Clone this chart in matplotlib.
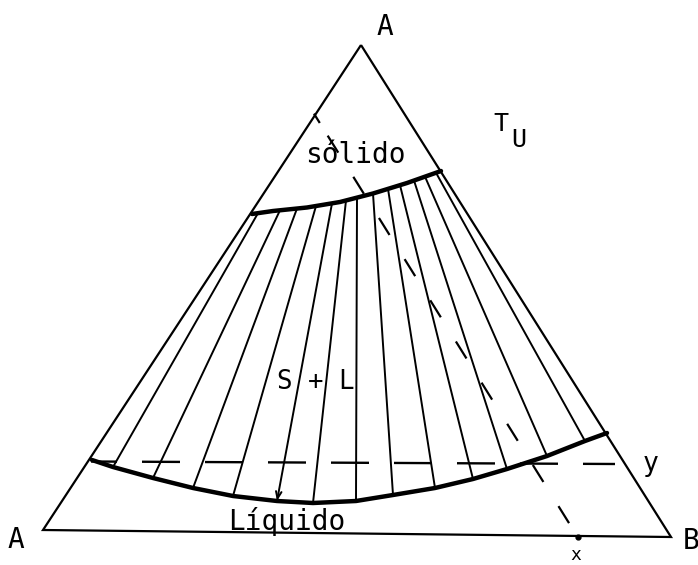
import numpy as np
import matplotlib
matplotlib.use("Agg")
import matplotlib.pyplot as plt

plt.rcParams['lines.scale_dashes'] = False
plt.rcParams['lines.solid_capstyle'] = 'butt'
plt.rcParams['font.family'] = ['DejaVu Sans Mono', 'DejaVu Sans']

# Corners of the composition triangle (drawing units, y grows downward)
apex_A = (361, 45)
corner_A = (43, 530)
corner_B = (671, 537)

# Solidus and liquidus boundaries of the S + L field at T_U
solidus_x = [252, 273, 307, 340, 373, 407, 441]
solidus_y = [214, 211, 207.5, 202, 193.5, 183, 171]
liquidus_x = [92, 113, 153, 193, 233, 277, 313, 356, 393, 435, 473, 507, 547, 585, 607]
liquidus_y = [460, 467, 478, 488, 496, 501, 503, 501, 495, 488, 479, 469, 456, 441, 433]

# Tie lines: solid end and liquid end (x along each boundary)
tie_solid_x = [258, 280, 297, 316, 332, 346, 357, 373, 388, 400, 414, 425, 436]
tie_liquid_x = [113, 153, 193, 233, 277, 313, 356, 393, 435, 473, 507, 547, 585]
arrow_tie = 4

# Alloy x on the A-B side, its path up to the A-A side, and the trace at y
alloy_x = (577.5, 536.7)
path_end = (314.5, 114.5)
trace_y_x = [91, 615]
trace_y_y = [461.5, 464]

PX = 0.72  # points per pixel at 100 dpi
INK = 'black'

fig = plt.figure(figsize=(6.98, 5.65), dpi=100)
ax = fig.add_axes([0, 0, 1, 1])
ax.set_xlim(0, 698)
ax.set_ylim(565, 0)
ax.axis('off')

# triangle
tri = np.array([apex_A, corner_A, corner_B, apex_A])
ax.plot(tri[:, 0], tri[:, 1], color=INK, lw=1.6, solid_joinstyle='miter')

# tie lines
sy = np.interp(tie_solid_x, solidus_x, solidus_y)
ly = np.interp(tie_liquid_x, liquidus_x, liquidus_y)
for i, (x0, y0, x1, y1) in enumerate(zip(tie_solid_x, sy, tie_liquid_x, ly)):
    if i == arrow_tie:
        ax.annotate('', xy=(x1, y1), xytext=(x0, y0),
                    arrowprops=dict(arrowstyle='->,head_length=0.5,head_width=0.2',
                                    lw=1.4, color=INK, shrinkA=0, shrinkB=0))
    else:
        ax.plot([x0, x1], [y0, y1], color=INK, lw=1.4)

# phase boundaries
ax.plot(solidus_x, solidus_y, color=INK, lw=3.2, solid_capstyle='round', solid_joinstyle='round')
ax.plot(liquidus_x, liquidus_y, color=INK, lw=3.2, solid_capstyle='round', solid_joinstyle='round')

# isothermal trace through y
ax.plot(trace_y_x, trace_y_y, color=INK, lw=1.7,
        linestyle=(12 * PX, (38 * PX, 25 * PX)))

# path of alloy x
ax.plot([alloy_x[0], path_end[0]], [alloy_x[1], path_end[1]], color=INK, lw=1.6,
        linestyle=(32.5 * PX, (20 * PX, 28.5 * PX)))
d = np.array(path_end) - np.array(alloy_x)
d = d / np.hypot(*d)
tick0 = np.array(path_end) - 10 * d
tick1 = np.array(path_end) + 1 * d
ax.plot([tick0[0], tick1[0]], [tick0[1], tick1[1]], color=INK, lw=1.6)
ax.plot(alloy_x[0], alloy_x[1], 'o', ms=3.5, color=INK)

# labels
ax.text(385, 27, 'A', fontsize=20, ha='center', va='center')
ax.text(15.5, 540, 'A', fontsize=20, ha='center', va='center')
ax.text(691, 541, 'B', fontsize=20, ha='center', va='center')
ax.text(576, 555, 'x', fontsize=13, ha='center', va='center')
ax.text(651, 471, 'y', fontsize=19, ha='center', va='baseline')
ax.text(500.5, 124, 'T', fontsize=18, ha='center', va='center')
ax.text(519, 140, 'U', fontsize=18, ha='center', va='center')
ax.text(355, 163, 'sólido', fontsize=20, ha='center', va='baseline')
ax.text(316, 389, 'S + L', fontsize=18.5, ha='center', va='baseline')
ax.text(286.5, 530, 'Líquido', fontsize=20, ha='center', va='baseline')

fig.savefig('out.png', dpi=100)
